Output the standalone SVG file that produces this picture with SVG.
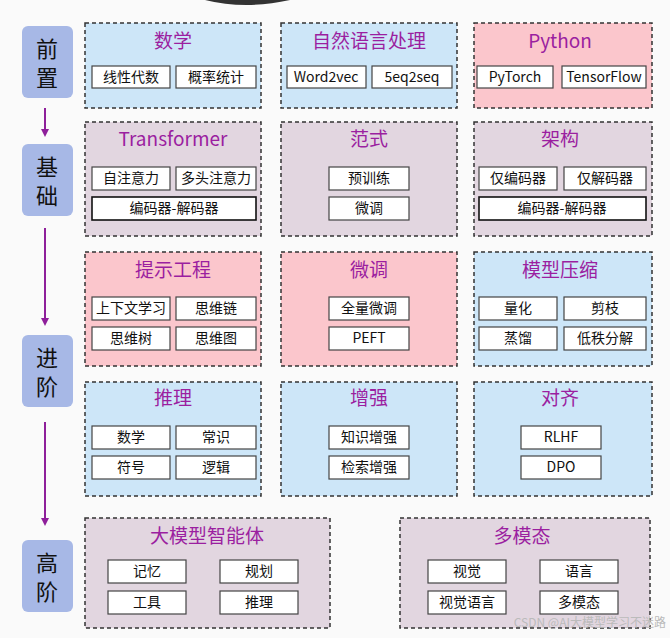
<svg xmlns="http://www.w3.org/2000/svg" width="670" height="638" viewBox="0 0 670 638">
<style>
text{font-family:"Noto Sans CJK SC","Noto Sans",sans-serif;text-anchor:middle}
.bl{fill:#cde6f8}.mv{fill:#e2d6e0}.pk{fill:#fbc6cc}
.grp{stroke:#333;stroke-width:1.5;stroke-dasharray:4 3}
.t{fill:#9b1fa0;font-size:19px}
.b{fill:#fff;stroke:#444;stroke-width:1.2}
.bt{font-size:14px;fill:#111}
.s{fill:#a7b8e6;rx:6}
.st{font-size:22px;fill:#111}
.ar{stroke:#8e1f9a;stroke-width:2;fill:none;marker-end:url(#ah)}
</style>
<defs><marker id="ah" markerWidth="8" markerHeight="8" refX="6" refY="4" orient="auto" markerUnits="userSpaceOnUse"><path d="M0,0L8,4L0,8z" fill="#8e1f9a"/></marker></defs>
<rect width="670" height="638" fill="#fafafa"/>
<path d="M205,0 Q245,10 290,0z" fill="#333"/>
<g id="side">
<rect class="s" x="22" y="26" width="51" height="72"/><text class="st" x="47" y="57">前</text><text class="st" x="47" y="86">置</text>
<rect class="s" x="22" y="144" width="51" height="72"/><text class="st" x="47" y="175">基</text><text class="st" x="47" y="204">础</text>
<rect class="s" x="22" y="335" width="51" height="72"/><text class="st" x="47" y="366">进</text><text class="st" x="47" y="395">阶</text>
<rect class="s" x="22" y="540" width="51" height="72"/><text class="st" x="47" y="571">高</text><text class="st" x="47" y="600">阶</text>
</g>
<g id="connectors">
<path class="ar" d="M45,108V135"/><path class="ar" d="M45,228V324"/><path class="ar" d="M45,422V524"/>
</g>
<g id="math"><rect class="bl grp" x="85" y="23" width="176" height="85"/><text class="t" x="173" y="48">数学</text>
<rect class="b" x="92" y="66" width="78" height="22"/><text class="bt" x="131" y="82">线性代数</text>
<rect class="b" x="176" y="66" width="80" height="22"/><text class="bt" x="216" y="82">概率统计</text></g>
<g id="nlp"><rect class="bl grp" x="281" y="23" width="176" height="85"/><text class="t" x="369" y="48">自然语言处理</text>
<rect class="b" x="287" y="66" width="79" height="22"/><text class="bt" x="326" y="82">Word2vec</text>
<rect class="b" x="372" y="66" width="80" height="22"/><text class="bt" x="412" y="82">5eq2seq</text></g>
<g id="python"><rect class="pk grp" x="474" y="23" width="178" height="85"/><text class="t" x="560" y="48">Python</text>
<rect class="b" x="477" y="66" width="76" height="22"/><text class="bt" x="515" y="82">PyTorch</text>
<rect class="b" x="562" y="66" width="84" height="22"/><text class="bt" x="604" y="82">TensorFlow</text></g>
<g id="transformer"><rect class="mv grp" x="85" y="122" width="176" height="114"/><text class="t" x="173" y="146">Transformer</text>
<rect class="b" x="92" y="167" width="78" height="23"/><text class="bt" x="131" y="183">自注意力</text>
<rect class="b" x="176" y="167" width="80" height="23"/><text class="bt" x="216" y="183">多头注意力</text>
<rect class="b" x="92" y="197" width="164" height="23" style="stroke:#111;stroke-width:1.6"/><text class="bt" x="174" y="213">编码器-解码器</text></g>
<g id="paradigm"><rect class="mv grp" x="281" y="122" width="176" height="114"/><text class="t" x="369" y="146">范式</text>
<rect class="b" x="329" y="167" width="80" height="23"/><text class="bt" x="369" y="183">预训练</text>
<rect class="b" x="329" y="197" width="80" height="23"/><text class="bt" x="369" y="213">微调</text></g>
<g id="arch"><rect class="mv grp" x="474" y="122" width="178" height="114"/><text class="t" x="560" y="146">架构</text>
<rect class="b" x="479" y="167" width="78" height="23"/><text class="bt" x="518" y="183">仅编码器</text>
<rect class="b" x="564" y="167" width="82" height="23"/><text class="bt" x="605" y="183">仅解码器</text>
<rect class="b" x="479" y="197" width="167" height="23" style="stroke:#111;stroke-width:1.6"/><text class="bt" x="562" y="213">编码器-解码器</text></g>
<g id="prompt"><rect class="pk grp" x="85" y="252" width="176" height="114"/><text class="t" x="173" y="277">提示工程</text>
<rect class="b" x="92" y="297" width="78" height="23"/><text class="bt" x="131" y="313">上下文学习</text>
<rect class="b" x="176" y="297" width="80" height="23"/><text class="bt" x="216" y="313">思维链</text>
<rect class="b" x="92" y="327" width="78" height="23"/><text class="bt" x="131" y="343">思维树</text>
<rect class="b" x="176" y="327" width="80" height="23"/><text class="bt" x="216" y="343">思维图</text></g>
<g id="finetune"><rect class="pk grp" x="281" y="252" width="176" height="114"/><text class="t" x="369" y="277">微调</text>
<rect class="b" x="329" y="297" width="80" height="23"/><text class="bt" x="369" y="313">全量微调</text>
<rect class="b" x="329" y="327" width="80" height="23"/><text class="bt" x="369" y="343">PEFT</text></g>
<g id="compress"><rect class="bl grp" x="474" y="252" width="178" height="114"/><text class="t" x="560" y="277">模型压缩</text>
<rect class="b" x="479" y="297" width="78" height="23"/><text class="bt" x="518" y="313">量化</text>
<rect class="b" x="564" y="297" width="82" height="23"/><text class="bt" x="605" y="313">剪枝</text>
<rect class="b" x="479" y="327" width="78" height="23"/><text class="bt" x="518" y="343">蒸馏</text>
<rect class="b" x="564" y="327" width="82" height="23"/><text class="bt" x="605" y="343">低秩分解</text></g>
<g id="reason"><rect class="bl grp" x="85" y="382" width="176" height="114"/><text class="t" x="173" y="405">推理</text>
<rect class="b" x="92" y="426" width="78" height="23"/><text class="bt" x="131" y="442">数学</text>
<rect class="b" x="176" y="426" width="80" height="23"/><text class="bt" x="216" y="442">常识</text>
<rect class="b" x="92" y="456" width="78" height="23"/><text class="bt" x="131" y="472">符号</text>
<rect class="b" x="176" y="456" width="80" height="23"/><text class="bt" x="216" y="472">逻辑</text></g>
<g id="augment"><rect class="bl grp" x="281" y="382" width="176" height="114"/><text class="t" x="369" y="405">增强</text>
<rect class="b" x="329" y="426" width="80" height="23"/><text class="bt" x="369" y="442">知识增强</text>
<rect class="b" x="329" y="456" width="80" height="23"/><text class="bt" x="369" y="472">检索增强</text></g>
<g id="align"><rect class="bl grp" x="474" y="382" width="178" height="114"/><text class="t" x="560" y="405">对齐</text>
<rect class="b" x="521" y="426" width="80" height="23"/><text class="bt" x="561" y="442">RLHF</text>
<rect class="b" x="521" y="456" width="80" height="23"/><text class="bt" x="561" y="472">DPO</text></g>
<g id="agent"><rect class="mv grp" x="85" y="518" width="245" height="110"/><text class="t" x="207" y="543">大模型智能体</text>
<rect class="b" x="108" y="560" width="78" height="23"/><text class="bt" x="147" y="576">记忆</text>
<rect class="b" x="220" y="560" width="78" height="23"/><text class="bt" x="259" y="576">规划</text>
<rect class="b" x="108" y="591" width="78" height="23"/><text class="bt" x="147" y="607">工具</text>
<rect class="b" x="220" y="591" width="78" height="23"/><text class="bt" x="259" y="607">推理</text></g>
<g id="multimodal"><rect class="mv grp" x="400" y="518" width="250" height="110"/><text class="t" x="522" y="543">多模态</text>
<rect class="b" x="428" y="560" width="78" height="23"/><text class="bt" x="467" y="576">视觉</text>
<rect class="b" x="540" y="560" width="78" height="23"/><text class="bt" x="579" y="576">语言</text>
<rect class="b" x="428" y="591" width="78" height="23"/><text class="bt" x="467" y="607">视觉语言</text>
<rect class="b" x="540" y="591" width="78" height="23"/><text class="bt" x="579" y="607">多模态</text></g>
<text x="666" y="627" style="text-anchor:end;font-size:12px;fill:#bbb">CSDN @AI大模型学习不迷路</text>
</svg>
